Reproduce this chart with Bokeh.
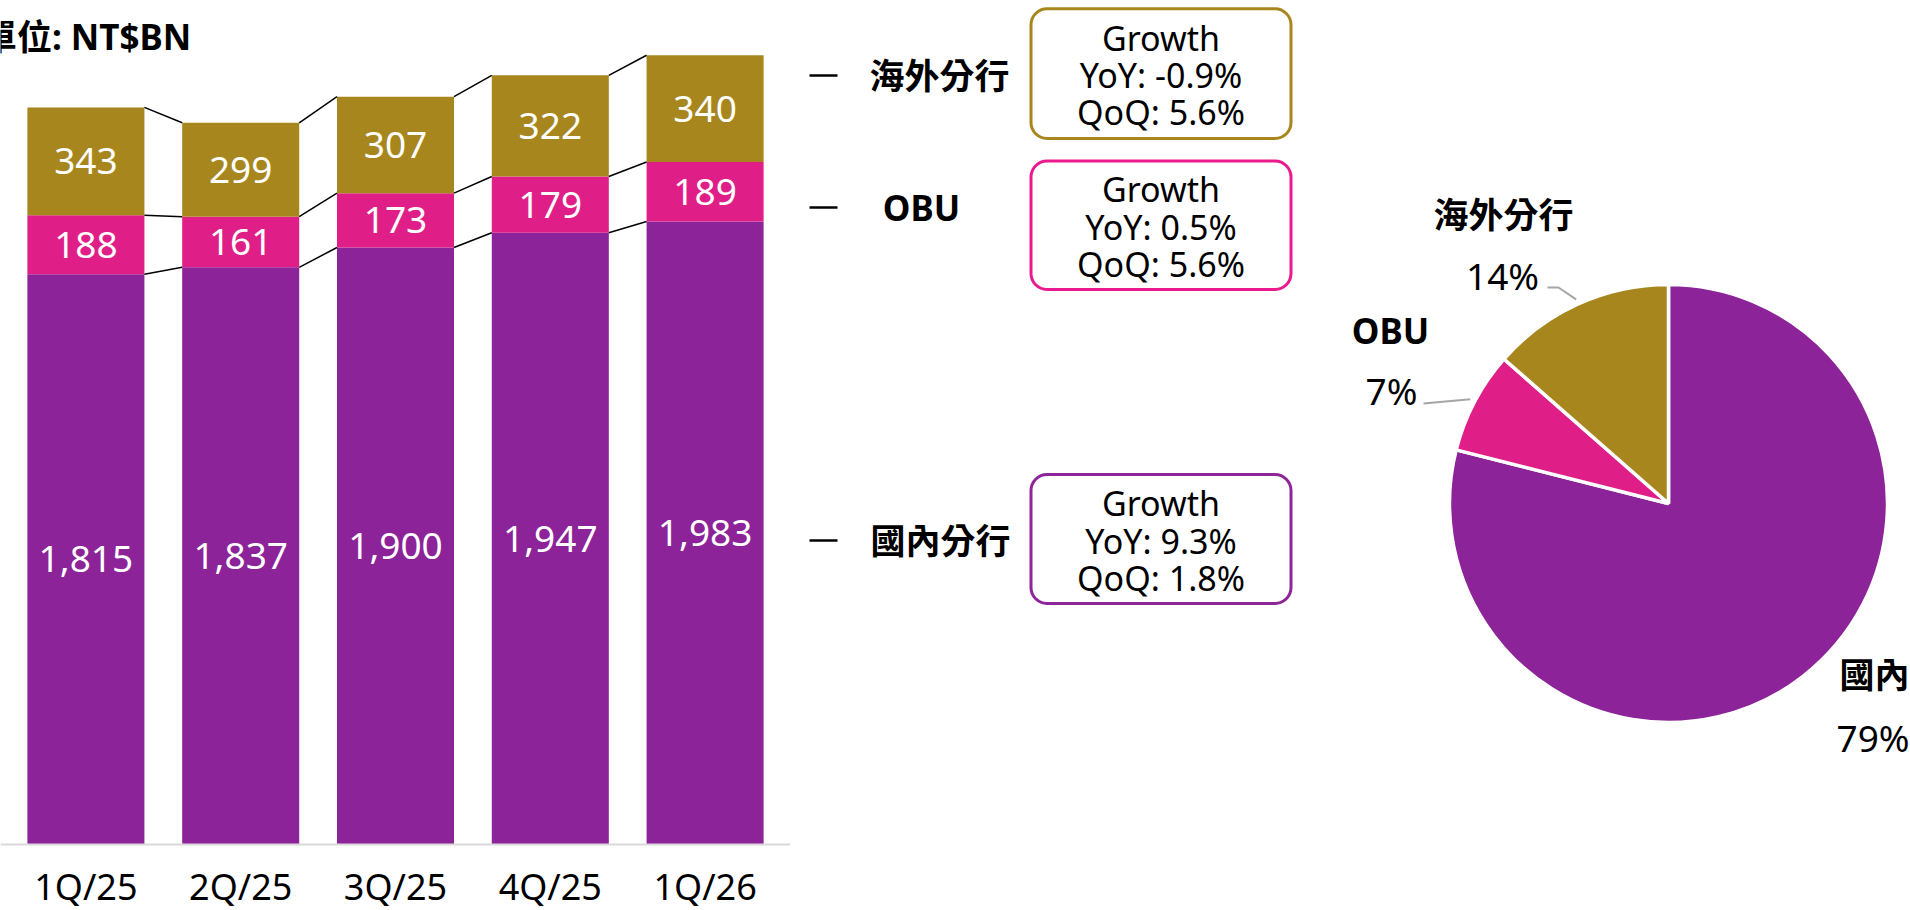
import math
from bokeh.plotting import figure
from bokeh.models import ColumnDataSource, FactorRange, Range1d, BoxAnnotation
from bokeh.transform import dodge
from bokeh.layouts import row
from bokeh.embed import file_html
from bokeh.resources import INLINE
from bokeh.core.properties import value

# ---------------- data ----------------
quarters = ["1Q/25", "2Q/25", "3Q/25", "4Q/25", "1Q/26"]
domestic = [1815, 1837, 1900, 1947, 1983]   # 國內分行
obu = [188, 161, 173, 179, 189]             # OBU
overseas = [343, 299, 307, 322, 340]        # 海外分行
series_names = ["國內分行", "OBU", "海外分行"]
series_colors = ["#8C2398", "#DF1F87", "#A8861E"]
box_colors = ["#8E2599", "#EA1A8E", "#A8861E"]
growth_yoy = ["9.3%", "0.5%", "-0.9%"]
growth_qoq = ["1.8%", "5.6%", "5.6%"]
pie_names = ["國內分行", "OBU", "海外分行"]
pie_pct_labels = ["79%", "7%", "14%"]
unit_label = "單位: NT$BN"

FONT = value("Noto Sans, Noto Sans CJK TC")
PX_PER_UNIT = 0.3142
FIG_H = 910
BASE_Y = 844                  # page y of the bar baseline

# ---------------- bar chart ----------------
BW = 0.756
bar = figure(x_range=FactorRange(factors=quarters, range_padding=0.0517,
                                 range_padding_units="absolute", factor_padding=0),
             y_range=Range1d(-(FIG_H - BASE_Y) / PX_PER_UNIT, BASE_Y / PX_PER_UNIT),
             width=808, height=FIG_H, min_border_left=0, min_border_top=0,
             min_border_right=18, min_border_bottom=0,
             y_axis_location=None, toolbar_location=None, output_backend="svg",
             outline_line_color=None)
bar.xgrid.visible = False
bar.ygrid.visible = False

src = ColumnDataSource(dict(q=quarters, dom=domestic, obu=obu, ovs=overseas))
bar.vbar_stack(["dom", "obu", "ovs"], x="q", width=BW, color=series_colors,
               line_color=None, source=src)

lev1 = domestic
lev2 = [d + o for d, o in zip(domestic, obu)]
lev3 = [a + b for a, b in zip(lev2, overseas)]

lab_x, lab_y, lab_t = [], [], []
for lo, vals in ((None, domestic), (lev1, obu), (lev2, overseas)):
    for i, v in enumerate(vals):
        base = 0 if lo is None else lo[i]
        lab_x.append(quarters[i])
        lab_y.append(base + v / 2)
        lab_t.append(f"{v:,}")
bar.text(x=lab_x, y=lab_y, text=lab_t, text_align="center", text_baseline="middle",
         text_color="white", text_font=FONT, text_font_size="37px")

for lev in (lev1, lev2, lev3):
    s = ColumnDataSource(dict(c0=quarters[:-1], c1=quarters[1:], y0=lev[:-1], y1=lev[1:]))
    bar.segment(x0=dodge("c0", BW / 2, range=bar.x_range), y0="y0",
                x1=dodge("c1", -BW / 2, range=bar.x_range), y1="y1",
                line_color="black", line_width=1.5, source=s)

bar.text(x=[quarters[0]], y=[BASE_Y / PX_PER_UNIT], text=[unit_label], x_offset=-104,
         y_offset=36, text_align="left", text_baseline="middle", text_color="black",
         text_font=FONT, text_font_size="35px", text_font_style="bold")

ax = bar.xaxis[0]
ax.fixed_location = 0
ax.axis_line_color = "#D9D9D9"
ax.axis_line_width = 2
ax.major_tick_line_color = None
ax.minor_tick_line_color = None
ax.major_tick_out = 0
ax.major_tick_in = 0
ax.major_label_standoff = 17
ax.major_label_text_font = "Noto Sans"
ax.major_label_text_font_size = "36px"
ax.major_label_text_color = "black"

# ---------------- middle: legend + growth boxes ----------------
mid = figure(width=500, height=FIG_H, x_range=Range1d(0, 500), y_range=Range1d(0, FIG_H),
             min_border=0, x_axis_location=None, y_axis_location=None,
             toolbar_location=None, output_backend="svg", outline_line_color=None)
mid.xgrid.visible = False
mid.ygrid.visible = False

X0 = 808
def Y(ry):
    return FIG_H - ry

legend_ry = [540, 207, 75]          # 國內分行, OBU, 海外分行
legend_text_rx = [940, 921, 939]
box_ry = [(474, 603), (160.5, 289), (8.3, 138)]
box_lines_ry = [(502, 540, 577), (188, 226, 263), (37, 74, 111)]

mid.segment(x0=[809 - X0] * 3, x1=[837 - X0] * 3, y0=[Y(r) for r in legend_ry],
            y1=[Y(r) for r in legend_ry], line_color="black", line_width=2.5)
mid.text(x=[rx - X0 for rx in legend_text_rx], y=[Y(r) for r in legend_ry],
         text=series_names, text_align="center", text_baseline="middle",
         text_color="black", text_font=FONT, text_font_size="35px",
         text_font_style="bold")

for i in range(3):
    top, bot = box_ry[i]
    mid.add_layout(BoxAnnotation(left=1030.5 - X0, right=1290.5 - X0, top=Y(top), bottom=Y(bot),
                                 fill_color=None, fill_alpha=0, line_color=box_colors[i],
                                 line_alpha=1.0, line_width=3, border_radius=16))
    lines = ["Growth", f"YoY: {growth_yoy[i]}", f"QoQ: {growth_qoq[i]}"]
    mid.text(x=[1160.5 - X0] * 3, y=[Y(r) for r in box_lines_ry[i]], text=lines,
             text_align="center", text_baseline="middle", text_color="black",
             text_font=FONT, text_font_size="34px")

# ---------------- pie ----------------
CX, CY = 1668, 503
pie = figure(width=602, height=FIG_H, x_range=Range1d(1308 - CX, 1910 - CX),
             y_range=Range1d(CY - FIG_H, CY),
             min_border=0, x_axis_location=None, y_axis_location=None,
             toolbar_location=None, output_backend="svg", outline_line_color=None)
pie.xgrid.visible = False
pie.ygrid.visible = False

R = 219
last = [domestic[-1], obu[-1], overseas[-1]]
total = sum(last)
starts, ends, mids = [], [], []
cum = 0
for v in last:
    e = math.pi / 2 - 2 * math.pi * cum / total
    cum += v
    s_ = math.pi / 2 - 2 * math.pi * cum / total
    starts.append(s_)
    ends.append(e)
    mids.append((s_ + e) / 2)
pie.wedge(x=0, y=0, radius=R, start_angle=starts, end_angle=ends,
          fill_color=series_colors, line_color="white", line_width=3.5)

RL = 224
lx = [[-121, -110, RL * math.cos(mids[2])], [-245, RL * math.cos(mids[1])]]
ly = [[216, 216, RL * math.sin(mids[2])], [100, RL * math.sin(mids[1])]]
pie.multi_line(xs=lx, ys=ly, line_color="#A6A6A6", line_width=2)

# name labels
pie.text(x=[-165, -278], y=[289, 173], text=[pie_names[2], pie_names[1]],
         text_align="center", text_baseline="middle", text_color="black",
         text_font=FONT, text_font_size="35px", text_font_style="bold")
pie.text(x=[171], y=[-171], text=[pie_names[0]], text_align="left",
         text_baseline="middle", text_color="black", text_font=FONT,
         text_font_size="35px", text_font_style="bold")
# percentage labels
pie.text(x=[-166, -277], y=[228, 113], text=[pie_pct_labels[2], pie_pct_labels[1]],
         text_align="center", text_baseline="middle", text_color="black",
         text_font=FONT, text_font_size="37px")
pie.text(x=[168], y=[-234], text=[pie_pct_labels[0]], text_align="left",
         text_baseline="middle", text_color="black", text_font=FONT,
         text_font_size="37px")

layout = row(bar, mid, pie)
open("out.html", "w").write(file_html(layout, INLINE))
